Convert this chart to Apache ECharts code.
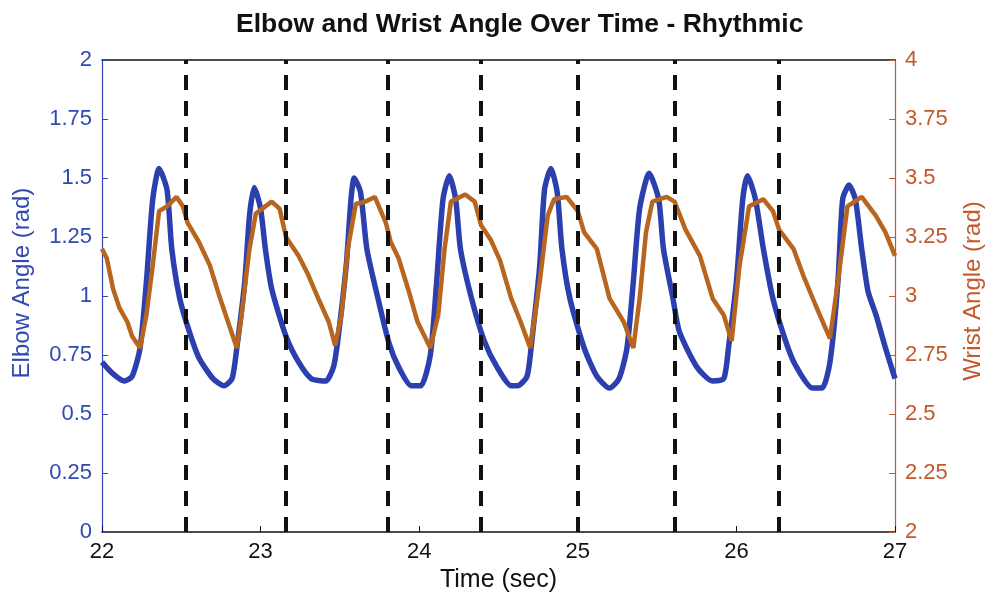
<!DOCTYPE html>
<html>
<head>
<meta charset="utf-8">
<script src="https://cdn.jsdelivr.net/npm/echarts@6/dist/echarts.min.js"></script>
<style>html,body{margin:0;padding:0;background:#fff}#c{width:993px;height:598px}</style>
</head>
<body>
<div id="c"></div>
<script>
// ---- data ----
const titleText = 'Elbow and Wrist Angle Over Time - Rhythmic';
const xName = 'Time (sec)';
const leftName = 'Elbow Angle (rad)';
const rightName = 'Wrist Angle (rad)';

const elbowTime = [22.00,22.07,22.14,22.19,22.24,22.28,22.32,22.36,22.41,22.44,22.49,22.55,22.61,22.70,22.77,22.82,22.85,22.90,22.93,22.96,23.00,23.03,23.07,23.16,23.24,23.32,23.41,23.46,23.49,23.54,23.57,23.59,23.63,23.67,23.74,23.81,23.87,23.95,24.01,24.07,24.11,24.15,24.19,24.23,24.26,24.33,24.41,24.49,24.58,24.62,24.68,24.71,24.76,24.79,24.83,24.87,24.90,24.95,25.04,25.12,25.20,25.26,25.31,25.35,25.39,25.45,25.51,25.54,25.60,25.64,25.75,25.85,25.92,25.95,26.00,26.04,26.07,26.12,26.17,26.23,26.31,26.37,26.48,26.54,26.59,26.64,26.67,26.71,26.75,26.79,26.83,26.88,26.94,27.00];
const elbowAngle = [0.72,0.67,0.64,0.66,0.78,1.06,1.41,1.54,1.45,1.20,0.99,0.85,0.74,0.65,0.62,0.65,0.78,1.06,1.34,1.46,1.37,1.20,1.03,0.83,0.72,0.65,0.64,0.70,0.83,1.13,1.41,1.50,1.44,1.20,0.99,0.80,0.70,0.62,0.62,0.75,1.06,1.41,1.51,1.41,1.20,0.99,0.81,0.70,0.62,0.62,0.66,0.81,1.13,1.45,1.54,1.44,1.20,0.99,0.78,0.66,0.61,0.65,0.78,1.06,1.37,1.52,1.41,1.20,0.99,0.85,0.70,0.64,0.65,0.78,1.06,1.41,1.51,1.41,1.20,0.99,0.81,0.71,0.61,0.61,0.72,1.06,1.41,1.47,1.41,1.20,1.02,0.92,0.78,0.65];

const wristTime = [22.00,22.03,22.07,22.11,22.16,22.19,22.24,22.28,22.32,22.36,22.41,22.47,22.51,22.54,22.61,22.68,22.74,22.78,22.85,22.88,22.93,22.97,23.03,23.07,23.12,23.16,23.24,23.30,23.37,23.43,23.47,23.51,23.55,23.60,23.66,23.72,23.79,23.82,23.87,23.93,23.99,24.07,24.12,24.16,24.20,24.29,24.35,24.39,24.45,24.51,24.58,24.64,24.70,24.76,24.81,24.85,24.93,25.00,25.04,25.12,25.20,25.29,25.35,25.39,25.43,25.47,25.56,25.61,25.68,25.77,25.85,25.92,25.97,26.02,26.08,26.17,26.23,26.27,26.36,26.42,26.50,26.59,26.64,26.70,26.79,26.88,26.94,27.00];
const wristAngle = [3.20,3.16,3.03,2.95,2.89,2.83,2.78,2.92,3.13,3.36,3.38,3.42,3.38,3.31,3.23,3.13,3.00,2.92,2.78,2.92,3.20,3.35,3.38,3.40,3.37,3.25,3.17,3.09,2.98,2.89,2.79,2.92,3.20,3.39,3.40,3.42,3.31,3.23,3.16,3.03,2.89,2.78,2.92,3.20,3.40,3.43,3.40,3.30,3.24,3.15,2.99,2.89,2.78,3.06,3.34,3.41,3.42,3.36,3.27,3.20,2.99,2.89,2.78,2.99,3.27,3.40,3.42,3.40,3.28,3.17,2.99,2.92,2.81,3.13,3.38,3.41,3.36,3.28,3.20,3.09,2.96,2.82,3.06,3.38,3.42,3.34,3.27,3.17];

const eventTimes = [22.53, 23.16, 23.80, 24.39, 25.00, 25.61, 26.27];

const xTicks = [22, 23, 24, 25, 26, 27];
const leftTicks = [0, 0.25, 0.5, 0.75, 1, 1.25, 1.5, 1.75, 2];
const rightTicks = [2, 2.25, 2.5, 2.75, 3, 3.25, 3.5, 3.75, 4];

// ---- chart ----
const BLUE = '#2c3fae';
const BLUE_TXT = '#3149b3';
const ORANGE = '#b8651f';
const ORANGE_TXT = '#c5582a';
const FONT = '"Liberation Sans", Arial, Helvetica, sans-serif';

const elbowData = elbowTime.map((t, i) => [t, elbowAngle[i]]);
const wristData = wristTime.map((t, i) => [t, wristAngle[i]]);

const chart = echarts.init(document.getElementById('c'), null, {renderer: 'canvas'});
chart.setOption({
  animation: false,
  backgroundColor: '#fff',
  textStyle: {fontFamily: FONT},
  title: {
    text: titleText, left: 231, top: 6,
    textStyle: {fontFamily: FONT, fontWeight: 'bold', fontSize: 26.5, color: '#111'}
  },
  grid: {left: 102, right: 92, top: 60, bottom: 63, containLabel: false},
  xAxis: [{
    type: 'value', position: 'bottom',
    min: xTicks[0], max: xTicks[xTicks.length - 1], interval: 1,
    name: xName, nameLocation: 'middle', nameGap: 26,
    nameTextStyle: {fontFamily: FONT, fontSize: 25, color: '#111', verticalAlign: 'top'},
    axisLine: {show: true, onZero: false, lineStyle: {color: '#111', width: 1.5}},
    axisTick: {show: true, inside: true, length: 6, lineStyle: {color: '#111'}},
    axisLabel: {fontFamily: FONT, fontSize: 22, color: '#111', margin: 9},
    splitLine: {show: false}
  }, {
    type: 'value', position: 'top',
    min: xTicks[0], max: xTicks[xTicks.length - 1], interval: 1,
    axisLine: {show: true, onZero: false, lineStyle: {color: '#111', width: 1.5}},
    axisTick: {show: false}, axisLabel: {show: false}, splitLine: {show: false}
  }],
  yAxis: [{
    type: 'value', position: 'left',
    min: leftTicks[0], max: leftTicks[leftTicks.length - 1], interval: 0.25,
    name: leftName, nameLocation: 'middle', nameGap: 68,
    nameTextStyle: {fontFamily: FONT, fontSize: 24, color: BLUE_TXT, padding: [0, 0, 0, 26]},
    axisLine: {show: true, lineStyle: {color: BLUE_TXT, width: 1.2}},
    axisTick: {show: true, inside: true, length: 6, lineStyle: {color: BLUE_TXT}},
    axisLabel: {fontFamily: FONT, fontSize: 22, color: BLUE_TXT, margin: 10},
    splitLine: {show: false}
  }, {
    type: 'value', position: 'right',
    min: rightTicks[0], max: rightTicks[rightTicks.length - 1], interval: 0.25,
    name: rightName, nameLocation: 'middle', nameGap: 66, nameRotate: 90,
    nameTextStyle: {fontFamily: FONT, fontSize: 24, color: ORANGE_TXT, padding: [0, 0, 0, 10]},
    axisLine: {show: true, lineStyle: {color: ORANGE_TXT, width: 1.2}},
    axisTick: {show: true, inside: true, length: 6, lineStyle: {color: ORANGE_TXT}},
    axisLabel: {fontFamily: FONT, fontSize: 22, color: ORANGE_TXT, margin: 10},
    splitLine: {show: false}
  }],
  series: [{
    name: 'Elbow', type: 'line', xAxisIndex: 0, yAxisIndex: 0,
    data: elbowData, showSymbol: false, smooth: 0.22,
    lineStyle: {color: BLUE, width: 5.5}, z: 3
  }, {
    name: 'Wrist', type: 'line', xAxisIndex: 0, yAxisIndex: 1,
    data: wristData, showSymbol: false, smooth: false,
    lineStyle: {color: ORANGE, width: 4.5}, z: 4
  }, {
    name: 'Events', type: 'line', xAxisIndex: 0, yAxisIndex: 0,
    data: [], z: 5,
    markLine: {
      silent: true, symbol: ['none', 'none'], animation: false,
      label: {show: false},
      lineStyle: {color: '#111', width: 4, type: [15, 11]},
      data: eventTimes.map(t => ({xAxis: t}))
    }
  }]
});
</script>
</body>
</html>
